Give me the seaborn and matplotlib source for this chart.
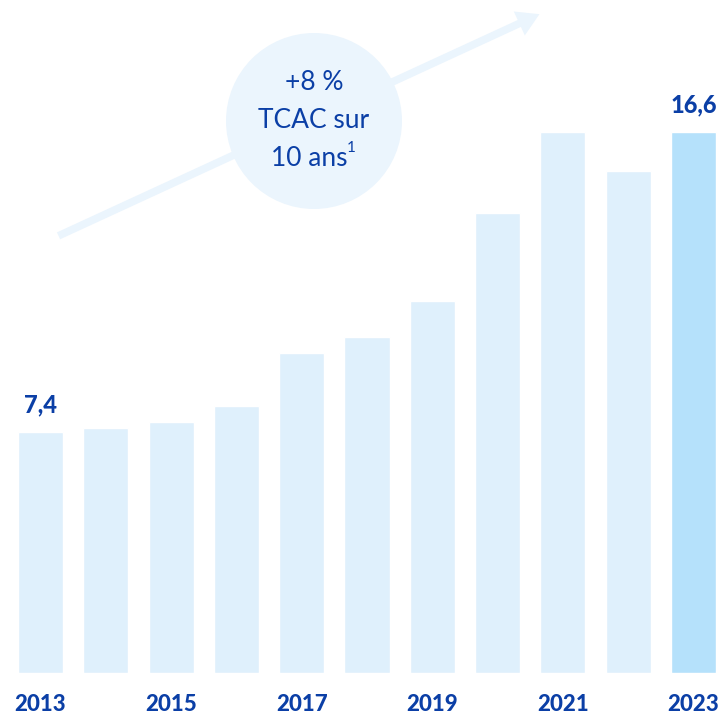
import matplotlib
matplotlib.use("Agg")
import matplotlib.pyplot as plt
from matplotlib.patches import Circle, FancyArrowPatch
from matplotlib.transforms import IdentityTransform
import seaborn as sns
import pandas as pd

years = [str(y) for y in range(2013, 2024)]
values = [7.4, 7.5, 7.7, 8.2, 9.8, 10.3, 11.4, 14.1, 16.6, 15.4, 16.6]
value_labels = ["7,4", "", "", "", "", "", "", "", "", "", "16,6"]
tick_years = ["2013", "2015", "2017", "2019", "2021", "2023"]
cagr_lines = ["+8 %", "TCAC sur", "10 ans"]
cagr_note = "1"

LIGHT = "#dff0fc"
HIGHLIGHT = "#b5e1fb"
NAVY = "#0b3fa6"
BUBBLE = "#ebf5fd"

sns.set_style("white")
plt.rcParams["font.family"] = ["Lato", "DejaVu Sans"]

df = pd.DataFrame({"year": years, "value": values})
colors = [LIGHT] * (len(years) - 1) + [HIGHLIGHT]

fig = plt.figure(figsize=(7.21, 7.16), dpi=100)
ax = fig.add_axes([0, 0.06, 1, 0.94])

sns.barplot(data=df, x="year", y="value", hue="year", palette=colors,
            legend=False, width=0.69, saturation=1, ax=ax)

ax.bar_label(ax.containers[0], labels=[value_labels[0]], padding=11,
             fontsize=17, fontweight="black", color=NAVY)
ax.bar_label(ax.containers[-1], labels=[value_labels[-1]], padding=11,
             fontsize=17, fontweight="black", color=NAVY)

ax.set_xlim(-0.62, 10.42)
ax.set_ylim(0, 20.64)
ax.set_xticks([years.index(y) for y in tick_years])
ax.set_xticklabels(tick_years, fontsize=16, fontweight="black", color=NAVY)
ax.tick_params(axis="x", length=0, pad=15)
ax.set_yticks([])
ax.set_xlabel("")
ax.set_ylabel("")
sns.despine(ax=ax, left=True, bottom=True)

# growth arrow and bubble (pixel coordinates, origin bottom-left)
arrow = FancyArrowPatch((56, 716 - 237), (542, 716 - 13),
                        arrowstyle="simple,head_length=1.6,head_width=1.9,tail_width=0.55",
                        mutation_scale=10, color=BUBBLE, lw=0,
                        transform=IdentityTransform(), zorder=1)
fig.add_artist(arrow)
fig.add_artist(Circle((314, 716 - 121), 88, transform=IdentityTransform(),
                      facecolor=BUBBLE, edgecolor="none", zorder=2))

for line, xpx, ypx in zip(cagr_lines, [314, 314, 309], [82, 121, 158]):
    fig.text(xpx / 721, 1 - ypx / 716, line, ha="center", va="center",
             fontsize=19, color=NAVY, zorder=3)
fig.text(347 / 721, 1 - 148 / 716, cagr_note, ha="left", va="center",
         fontsize=11, color=NAVY, zorder=3)

fig.savefig("out.png", dpi=100)
